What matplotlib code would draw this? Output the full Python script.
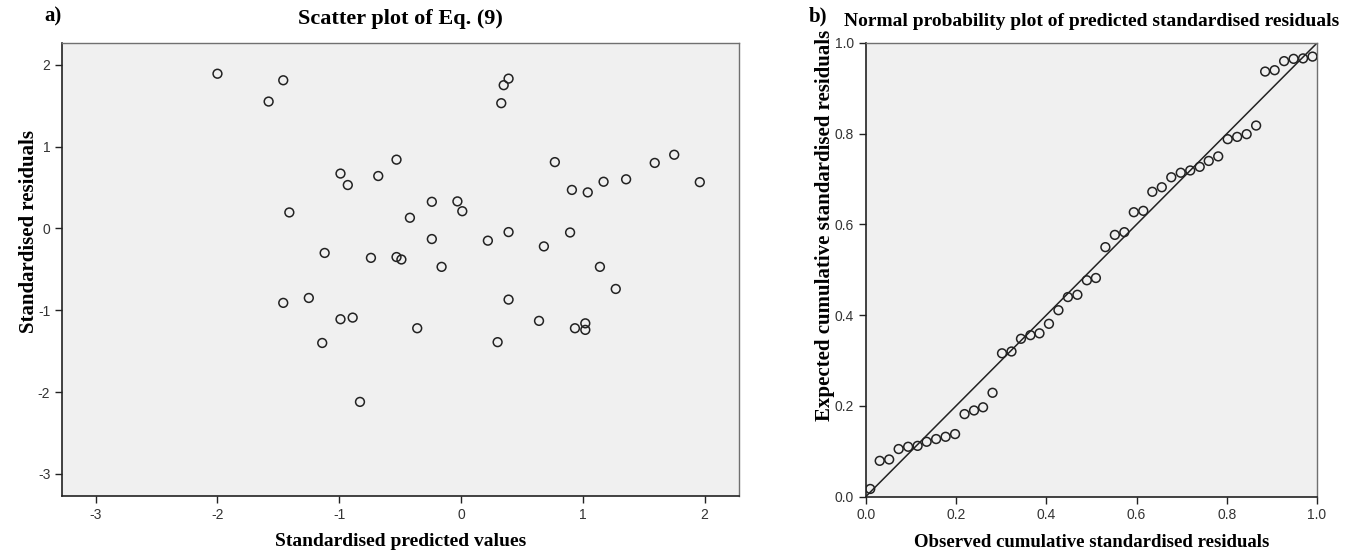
import matplotlib
matplotlib.use("Agg")
import matplotlib.pyplot as plt

plt.rcParams['axes.unicode_minus'] = False

# panel a) standardised predicted values vs standardised residuals
pred_values = [-2.00, -1.46, -1.58, -0.53, -0.99, -0.68, -0.93, -1.41, -0.42, -1.12,
               -0.74, -0.53, -0.49, 0.39, 0.35, 0.33, 0.77, 1.75, 1.59, 1.96,
               1.355, 1.17, 0.91, 1.04, -0.24, -0.03, 0.01, -0.24, 0.22, 0.39,
               0.68, 0.895, -0.16, 1.14, -1.46, -1.25, -0.99, -0.89, -1.14, -0.83,
               1.27, 0.39, -0.36, 0.64, 0.935, 1.02, 1.02, 0.30]
residuals = [1.89, 1.81, 1.55, 0.84, 0.67, 0.64, 0.53, 0.195, 0.13, -0.30,
             -0.36, -0.35, -0.38, 1.83, 1.75, 1.53, 0.81, 0.90, 0.80, 0.565,
             0.60, 0.57, 0.47, 0.44, 0.325, 0.33, 0.21, -0.13, -0.15, -0.045,
             -0.22, -0.05, -0.47, -0.47, -0.91, -0.85, -1.11, -1.09, -1.40, -2.12,
             -0.74, -0.87, -1.22, -1.13, -1.22, -1.16, -1.24, -1.39]

# panel b) normal P-P plot
observed_cum = [0.010, 0.031, 0.052, 0.073, 0.094, 0.115, 0.135, 0.156, 0.177, 0.198,
                0.219, 0.240, 0.260, 0.281, 0.302, 0.323, 0.344, 0.365, 0.385, 0.406,
                0.427, 0.448, 0.469, 0.490, 0.510, 0.531, 0.552, 0.573, 0.594, 0.615,
                0.635, 0.656, 0.677, 0.698, 0.719, 0.740, 0.760, 0.781, 0.802, 0.823,
                0.844, 0.865, 0.885, 0.906, 0.927, 0.948, 0.969, 0.990]
expected_cum = [0.017, 0.079, 0.082, 0.105, 0.110, 0.112, 0.121, 0.127, 0.132, 0.138,
                0.182, 0.190, 0.197, 0.229, 0.316, 0.320, 0.348, 0.356, 0.360, 0.381,
                0.411, 0.440, 0.445, 0.477, 0.482, 0.550, 0.577, 0.583, 0.627, 0.630,
                0.672, 0.682, 0.704, 0.714, 0.719, 0.727, 0.740, 0.750, 0.788, 0.793,
                0.799, 0.818, 0.937, 0.940, 0.960, 0.965, 0.966, 0.970]

left_ticks = [-3, -2, -1, 0, 1, 2]
pp_ticks = [0.0, 0.2, 0.4, 0.6, 0.8, 1.0]

bg = '#f0f0f0'
serif = 'Liberation Serif'
sans = 'Liberation Sans'

fig = plt.figure(figsize=(13.55, 5.56), dpi=100)
ax1 = fig.add_axes([0.0458, 0.1079, 0.4996, 0.8147])
ax2 = fig.add_axes([0.6389, 0.1067, 0.3331, 0.8160])


def style_axes(ax):
    ax.set_facecolor(bg)
    for side in ['top', 'right']:
        ax.spines[side].set_color('#707070')
        ax.spines[side].set_linewidth(1.0)
    for side in ['left', 'bottom']:
        ax.spines[side].set_color('#222222')
        ax.spines[side].set_linewidth(1.2)
    ax.tick_params(direction='out', length=5, width=1.0, color='#222222',
                   labelsize=10, labelcolor='#333333', top=False, right=False)
    for lab in ax.get_xticklabels() + ax.get_yticklabels():
        lab.set_fontfamily(sans)


# a) scatter
ax1.scatter(pred_values, residuals, s=40, facecolors='none', edgecolors='#222222',
            linewidths=1.1, zorder=3)
ax1.set_xlim(-3.276, 2.282)
ax1.set_ylim(-3.27, 2.265)
ax1.set_xticks(left_ticks)
ax1.set_yticks(left_ticks)
ax1.set_xticklabels([str(t) for t in left_ticks])
ax1.set_yticklabels([str(t) for t in left_ticks])
style_axes(ax1)
ax1.set_xlabel('Standardised predicted values', fontfamily=serif, fontweight='bold',
               fontsize=14, labelpad=8)
ax1.set_ylabel('Standardised residuals', fontfamily=serif, fontweight='bold',
               fontsize=15)
ax1.yaxis.set_label_coords(-0.0487, 0.583)
ax1.yaxis.label.set_verticalalignment('center')
ax1.set_title('Scatter plot of Eq. (9)', fontfamily=serif, fontweight='bold',
              fontsize=16, pad=14)

# b) P-P plot
ax2.plot([0, 1], [0, 1], color='#222222', linewidth=1.1, zorder=2)
ax2.scatter(observed_cum, expected_cum, s=40, facecolors='none', edgecolors='#222222',
            linewidths=1.1, zorder=3)
ax2.set_xlim(0, 1)
ax2.set_ylim(0, 1)
ax2.set_xticks(pp_ticks)
ax2.set_yticks(pp_ticks)
ax2.set_xticklabels(['%.1f' % t for t in pp_ticks])
ax2.set_yticklabels(['%.1f' % t for t in pp_ticks])
style_axes(ax2)
ax2.set_xlabel('Observed cumulative standardised residuals', fontfamily=serif,
               fontweight='bold', fontsize=13.5, labelpad=8)
ax2.set_ylabel('Expected cumulative standardised residuals', fontfamily=serif,
               fontweight='bold', fontsize=15)
ax2.yaxis.set_label_coords(-0.090, 0.597)
ax2.yaxis.label.set_verticalalignment('center')
ax2.set_title('Normal probability plot of predicted standardised residuals',
              fontfamily=serif, fontweight='bold', fontsize=14, pad=12)

# panel letters
fig.text(0.039, 0.970, 'a)', fontfamily=serif, fontweight='bold', fontsize=15,
         ha='center', va='center')
fig.text(0.604, 0.970, 'b)', fontfamily=serif, fontweight='bold', fontsize=15,
         ha='center', va='center')

fig.savefig('out.png', dpi=100, facecolor='white')
